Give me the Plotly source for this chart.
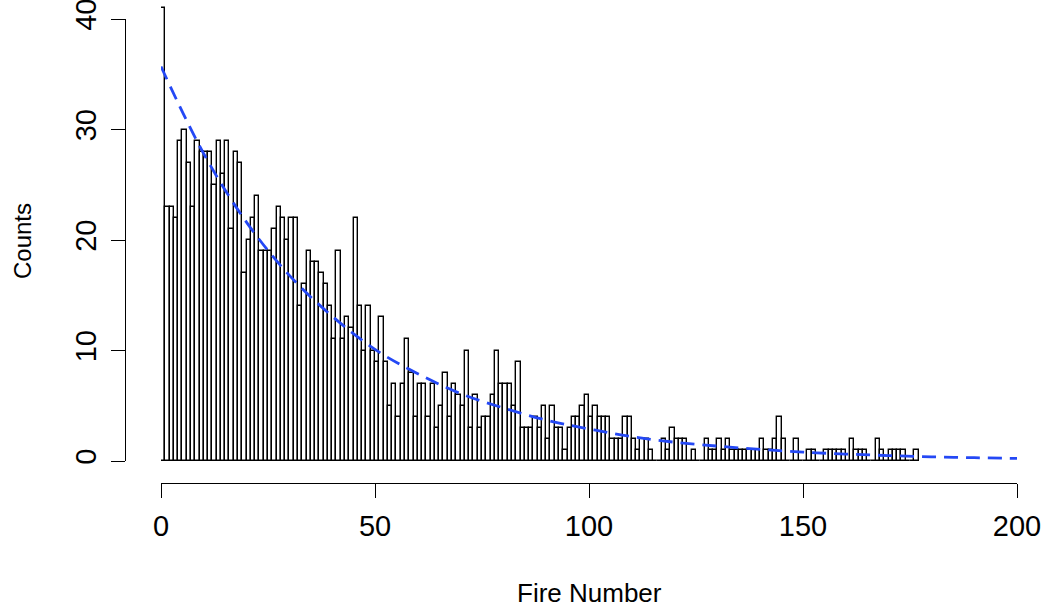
import plotly.graph_objects as go

# ---- data ----
bin_starts = list(range(0, 177))
counts = [41, 23, 23, 22, 29, 30, 27, 23, 29, 28, 28, 28, 25, 29, 26, 29, 21, 28, 27, 17,
          20, 22, 24, 19, 19, 19, 21, 23, 22, 20, 22, 22, 14, 16, 19, 18, 18, 17, 16, 14,
          11, 19, 11, 13, 12, 22, 14, 10, 14, 10, 9, 13, 9, 5, 7, 4, 7, 11, 8, 4,
          7, 7, 4, 7, 3, 5, 8, 4, 7, 6, 5, 10, 3, 6, 3, 4, 4, 6, 10, 7,
          7, 7, 5, 9, 3, 3, 3, 4, 3, 5, 2, 5, 3, 3, 1, 3, 4, 4, 5, 6,
          4, 5, 4, 4, 4, 2, 2, 2, 4, 4, 2, 1, 2, 2, 1, 0, 0, 2, 1, 3,
          2, 2, 2, 0, 1, 0, 0, 2, 1, 1, 2, 1, 2, 1, 1, 1, 1, 1, 1, 1,
          2, 1, 1, 2, 4, 2, 0, 0, 2, 0, 0, 1, 1, 0, 0, 1, 1, 1, 1, 1,
          0, 2, 1, 1, 1, 0, 0, 2, 1, 0, 1, 1, 1, 1, 0, 0, 1]
curve_x = [0, 10, 20, 30, 40, 50, 60, 70, 80, 90, 100, 110, 120, 130, 140, 150, 160, 170, 180, 190, 200]
curve_y = [35.7, 27.8, 21.6, 16.8, 13.1, 10.1, 7.9, 6.1, 4.8, 3.7, 2.9, 2.2, 1.7, 1.35, 1.05, 0.8,
           0.63, 0.49, 0.38, 0.3, 0.23]
x_ticks = [0, 50, 100, 150, 200]
y_ticks = [0, 10, 20, 30, 40]

W, H = 1045, 613
FONT = "Liberation Sans, Arial, sans-serif"
TICK_FS = 29
XTITLE_FS = 26
YTITLE_FS = 24

def px(x):
    return x / W

def py(y):
    return (H - y) / H

fig = go.Figure()
fig.add_trace(go.Bar(
    x=[b + 0.5 for b in bin_starts], y=counts, width=1,
    marker=dict(color="white", line=dict(color="black", width=1.4)),
    xaxis="x", yaxis="y", showlegend=False, hoverinfo="x+y"))
fig.add_trace(go.Scatter(
    x=curve_x, y=curve_y, mode="lines", line_shape="spline",
    line=dict(color="#2448f5", width=2.8, dash="14px,8px"),
    xaxis="x", yaxis="y2", showlegend=False))

fig.update_layout(
    width=W, height=H, margin=dict(l=0, r=0, t=0, b=0),
    paper_bgcolor="white", plot_bgcolor="rgba(0,0,0,0)",
    font=dict(family=FONT, size=TICK_FS, color="black"),
    bargap=0,
    xaxis=dict(domain=[px(161), px(1017)], range=[0, 200], anchor="free", position=py(483),
               automargin=False, ticklabeloverflow="allow",
               showgrid=False, zeroline=False, showline=True, linecolor="black", linewidth=1.3,
               ticks="outside", ticklen=14, tickwidth=1.3, tickcolor="black",
               tickvals=x_ticks, ticktext=[str(v) for v in x_ticks], ticklabelstandoff=3,
               tickfont=dict(family=FONT, size=TICK_FS)),
    yaxis=dict(domain=[py(461), 1], range=[0, 461 / 11.05], visible=False, anchor="x",
               automargin=False),
    yaxis2=dict(domain=[py(461), py(19)], range=[0, 40], anchor="free", position=px(125),
                automargin=False, ticklabeloverflow="allow",
                showgrid=False, zeroline=False, showline=True, linecolor="black", linewidth=1.3,
                ticks="outside", ticklen=14, tickwidth=1.3, tickcolor="black",
                tickvals=y_ticks, ticktext=[str(v) for v in y_ticks], tickangle=-90,
                ticklabelstandoff=3, tickfont=dict(family=FONT, size=TICK_FS)),
    annotations=[
        dict(text="Fire Number", x=px(589), y=py(593), xref="paper", yref="paper",
             xanchor="center", yanchor="middle",
             showarrow=False, font=dict(family=FONT, size=XTITLE_FS)),
        dict(text="Counts", x=px(22), y=py(241), xref="paper", yref="paper",
             xanchor="center", yanchor="middle",
             showarrow=False, textangle=-90, font=dict(family=FONT, size=YTITLE_FS)),
    ],
)

fig.write_html("out.html")
